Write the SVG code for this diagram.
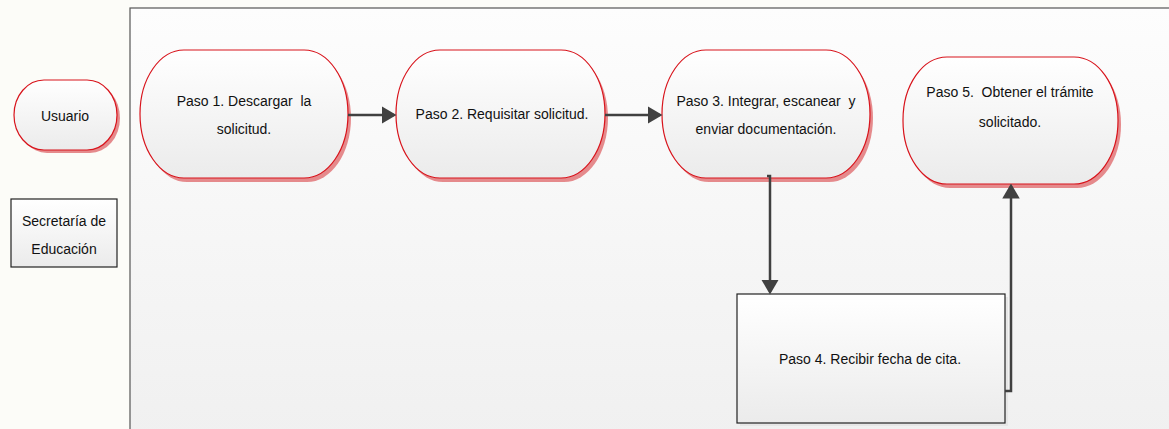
<svg xmlns="http://www.w3.org/2000/svg" width="1169" height="429" viewBox="0 0 1169 429">
<style>
.t{font-family:"Liberation Sans",Arial,sans-serif;font-size:14px;fill:#111;text-anchor:middle;white-space:pre}
.term{fill:url(#g);stroke:#d8141c;stroke-width:1.2}
.shadow{fill:#e58a8c}
.box{fill:url(#g);stroke:#222;stroke-width:1.2}
.boxsh{fill:#e6e6e6}
.conn{fill:none;stroke:#404040;stroke-width:2.5}
</style>
<defs>
<linearGradient id="g" x1="0" y1="0" x2="0" y2="1">
<stop offset="0" stop-color="#ffffff"/>
<stop offset="1" stop-color="#ebebeb"/>
</linearGradient>
<linearGradient id="pool" x1="0" y1="0" x2="0" y2="1">
<stop offset="0" stop-color="#fdfdfd"/>
<stop offset="1" stop-color="#f0f0f0"/>
</linearGradient>
<marker id="arr" markerWidth="6" markerHeight="7" refX="5" refY="3.5" orient="auto" markerUnits="strokeWidth">
<path d="M0,0 L6,3.5 L0,7 Z" fill="#404040"/>
</marker>
</defs>
<rect x="0" y="0" width="1169" height="429" fill="#fcfcf8"/>
<g id="pool-frame">
<rect x="130" y="8" width="1045" height="430" fill="url(#pool)" stroke="#555" stroke-width="1.2"/>
</g>
<g id="usuario">
<rect class="shadow" x="17" y="83" width="103" height="70" rx="30" ry="35"/>
<rect class="term" x="14" y="80" width="103" height="70" rx="30" ry="35"/>
<text class="t" x="65" y="121">Usuario</text>
</g>
<g id="secretaria">
<rect class="box" x="11" y="199" width="106" height="68"/>
<text class="t" x="64" y="226">Secretaría de</text>
<text class="t" x="64" y="254">Educación</text>
</g>
<g id="paso1">
<rect class="shadow" x="143" y="54" width="208" height="128" rx="44" ry="64"/>
<rect class="term" x="140" y="50" width="208" height="128" rx="44" ry="64"/>
<text class="t" x="244" y="106">Paso 1. Descargar  la</text>
<text class="t" x="244" y="134">solicitud.</text>
</g>
<g id="paso2">
<rect class="shadow" x="399" y="54" width="209" height="128" rx="44" ry="64"/>
<rect class="term" x="396" y="50" width="209" height="128" rx="44" ry="64"/>
<text class="t" x="502" y="119">Paso 2. Requisitar solicitud.</text>
</g>
<g id="paso3">
<rect class="shadow" x="665" y="54" width="208" height="128" rx="44" ry="64"/>
<rect class="term" x="662" y="50" width="208" height="128" rx="44" ry="64"/>
<text class="t" x="766" y="106">Paso 3. Integrar, escanear  y</text>
<text class="t" x="766" y="134">enviar documentación.</text>
</g>
<g id="paso5">
<rect class="shadow" x="906" y="61" width="215" height="127" rx="44" ry="63"/>
<rect class="term" x="903" y="57" width="215" height="127" rx="44" ry="63"/>
<text class="t" x="1010" y="97">Paso 5.  Obtener el trámite</text>
<text class="t" x="1010" y="127">solicitado.</text>
</g>
<g id="paso4">
<rect class="boxsh" x="740" y="297" width="268" height="129"/>
<rect class="box" x="737" y="294" width="268" height="129"/>
<text class="t" x="870" y="364">Paso 4. Recibir fecha de cita.</text>
</g>
<g id="connectors">
<path class="conn" d="M348,115 L394,115" marker-end="url(#arr)"/>
<path class="conn" d="M605,115 L660,115" marker-end="url(#arr)"/>
<path class="conn" d="M767,176 L770,176 L770,292" marker-end="url(#arr)"/>
<path class="conn" d="M1005,391 L1011,391 L1011,186" marker-end="url(#arr)"/>
</g>
</svg>
